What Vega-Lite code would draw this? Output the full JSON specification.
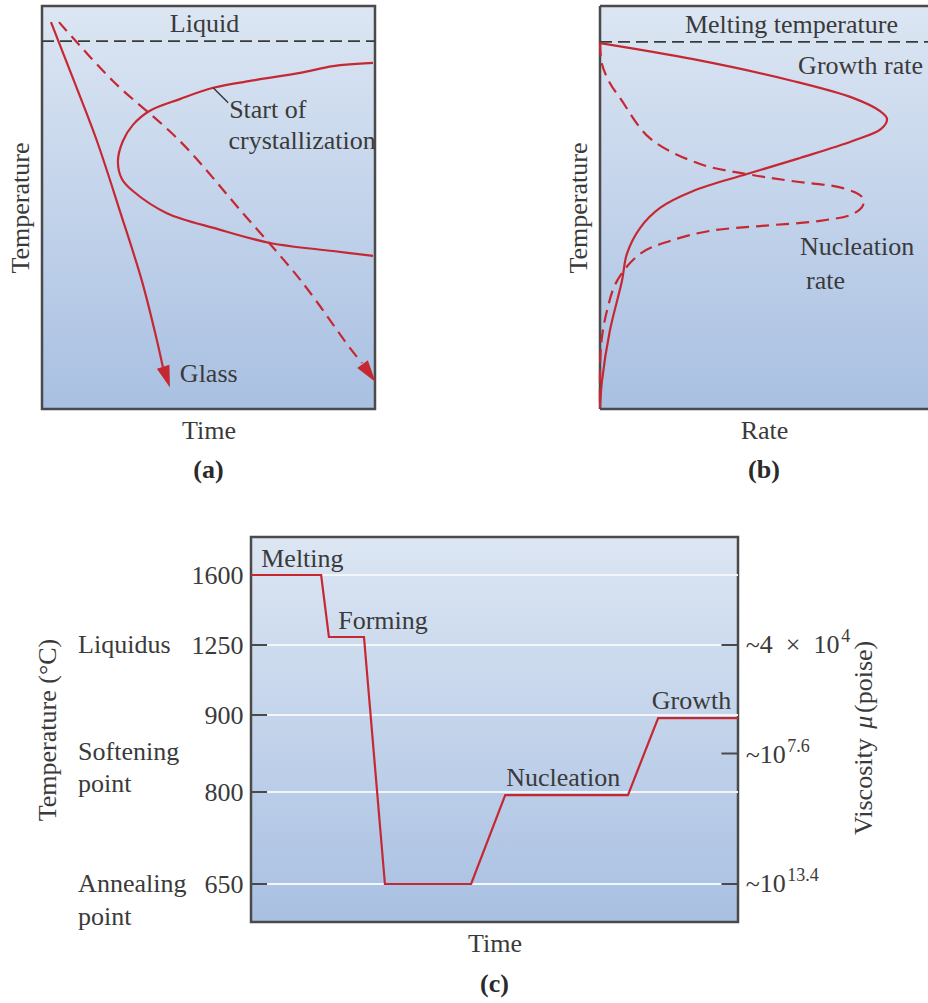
{
  "$schema": "https://vega.github.io/schema/vega-lite/v6.json",
  "background": "white",
  "padding": {"left": 5, "top": 1, "right": 0, "bottom": 0},
  "config": {
    "font": "Liberation Serif",
    "text": {"font": "Liberation Serif", "fontSize": 26, "color": "#3a3a3a"},
    "axis": {
      "titleFont": "Liberation Serif", "titleFontSize": 26, "titleFontWeight": "normal", "titleColor": "#3a3a3a",
      "labelFont": "Liberation Serif", "labelFontSize": 26, "labelColor": "#3a3a3a",
      "domain": false, "ticks": false, "tickSize": 0, "grid": false
    },
    "title": {"font": "Liberation Serif", "fontSize": 26, "fontWeight": "bold", "color": "#2a2a2a"}
  },
  "spacing": 50,
  "vconcat": [
    {
      "spacing": 185,
      "hconcat": [
        {
          "width": 333,
          "height": 403,
          "view": {"fill": {"gradient": "linear", "x1": 0, "y1": 0, "x2": 0, "y2": 1, "stops": [{"offset": 0, "color": "#dce6f3"}, {"offset": 1, "color": "#a9c0e2"}]}, "stroke": "#4a4a4a", "strokeWidth": 2.5},
          "title": {"text": "(a)", "orient": "bottom", "offset": 14, "anchor": "middle"},
          "encoding": {
            "x": {"field": "t", "type": "quantitative", "scale": {"domain": [0, 100], "nice": false}, "axis": {"title": "Time", "labels": false, "titlePadding": 8}},
            "y": {"field": "temp", "type": "quantitative", "scale": {"domain": [0, 100], "nice": false}, "axis": {"title": "Temperature", "labels": false, "titlePadding": 9}}
          },
          "layer": [
            {
              "data": {"values": [{"t": 0, "temp": 91.3, "i": 0}, {"t": 100, "temp": 91.3, "i": 1}]},
              "mark": {"type": "line", "color": "#3a3a3a", "strokeWidth": 1.8, "strokeDash": [12, 6]},
              "encoding": {"order": {"field": "i"}}
            },
            {
              "data": {"values": [
                {"i": 0, "t": 99.4, "temp": 85.9}, {"i": 1, "t": 87.4, "temp": 85.1}, {"i": 2, "t": 77.5, "temp": 83.4},
                {"i": 3, "t": 64.0, "temp": 81.6}, {"i": 4, "t": 51.4, "temp": 79.7}, {"i": 5, "t": 41.4, "temp": 76.9},
                {"i": 6, "t": 32.4, "temp": 74.0}, {"i": 7, "t": 27.3, "temp": 70.5}, {"i": 8, "t": 24.3, "temp": 66.5},
                {"i": 9, "t": 22.8, "temp": 61.5}, {"i": 10, "t": 24.0, "temp": 57.1}, {"i": 11, "t": 27.3, "temp": 54.1},
                {"i": 12, "t": 37.5, "temp": 48.6}, {"i": 13, "t": 52.6, "temp": 44.7}, {"i": 14, "t": 68.5, "temp": 41.2},
                {"i": 15, "t": 87.4, "temp": 39.2}, {"i": 16, "t": 99.4, "temp": 38.0}
              ]},
              "mark": {"type": "line", "color": "#c62832", "strokeWidth": 2.2, "interpolate": "catmull-rom"},
              "encoding": {"order": {"field": "i"}}
            },
            {
              "data": {"values": [
                {"i": 0, "t": 2.7, "temp": 96.0}, {"i": 1, "t": 9.6, "temp": 81.4}, {"i": 2, "t": 16.5, "temp": 66.5},
                {"i": 3, "t": 23.4, "temp": 49.1}, {"i": 4, "t": 30.0, "temp": 31.8}, {"i": 5, "t": 34.2, "temp": 18.1},
                {"i": 6, "t": 36.3, "temp": 10.4}
              ]},
              "mark": {"type": "line", "color": "#c62832", "strokeWidth": 2.2, "interpolate": "catmull-rom"},
              "encoding": {"order": {"field": "i"}}
            },
            {
              "data": {"values": [
                {"i": 0, "t": 5.1, "temp": 96.0}, {"i": 1, "t": 21.3, "temp": 81.4}, {"i": 2, "t": 41.4, "temp": 66.5},
                {"i": 3, "t": 59.8, "temp": 49.1}, {"i": 4, "t": 77.8, "temp": 31.8}, {"i": 5, "t": 92.5, "temp": 15.1},
                {"i": 6, "t": 96.1, "temp": 11.4}
              ]},
              "mark": {"type": "line", "color": "#c62832", "strokeWidth": 2.2, "strokeDash": [12, 7], "interpolate": "catmull-rom"},
              "encoding": {"order": {"field": "i"}}
            },
            {
              "data": {"values": [{"i": 0, "t": 51.4, "temp": 79.7}, {"i": 1, "t": 55.9, "temp": 76.0}]},
              "mark": {"type": "line", "color": "#3a3a3a", "strokeWidth": 1.5},
              "encoding": {"order": {"field": "i"}}
            },
            {
              "data": {"values": [{"t": 37.4, "temp": 7.9, "ang": -18}, {"t": 98.2, "temp": 8.9, "ang": -36}]},
              "mark": {"type": "point", "shape": "M-0.6,-1L0.6,-1L0,1Z", "size": 484, "filled": true, "color": "#c62832", "opacity": 1},
              "encoding": {"angle": {"field": "ang", "type": "quantitative", "scale": null}}
            },
            {
              "data": {"values": [
                {"t": 38.4, "temp": 95.5, "label": "Liquid"},
                {"t": 56.2, "temp": 74.2, "label": "Start of"},
                {"t": 56.0, "temp": 66.5, "label": "crystallization"},
                {"t": 41.4, "temp": 8.6, "label": "Glass"}
              ]},
              "mark": {"type": "text", "align": "left", "baseline": "middle"},
              "encoding": {"text": {"field": "label"}}
            }
          ]
        },
        {
          "width": 328,
          "height": 403,
          "view": {"fill": {"gradient": "linear", "x1": 0, "y1": 0, "x2": 0, "y2": 1, "stops": [{"offset": 0, "color": "#dce6f3"}, {"offset": 1, "color": "#a9c0e2"}]}, "stroke": null},
          "title": {"text": "(b)", "orient": "bottom", "offset": 14, "anchor": "middle"},
          "encoding": {
            "x": {"field": "t", "type": "quantitative", "scale": {"domain": [0, 100], "nice": false}, "axis": {"title": "Rate", "labels": false, "titlePadding": 8}},
            "y": {"field": "temp", "type": "quantitative", "scale": {"domain": [0, 100], "nice": false}, "axis": {"title": "Temperature", "labels": false, "titlePadding": 9}}
          },
          "layer": [
            {
              "data": {"values": [
                {"side": "top", "i": 0, "t": 0, "temp": 100}, {"side": "top", "i": 1, "t": 100, "temp": 100},
                {"side": "bottom", "i": 0, "t": 0, "temp": 0}, {"side": "bottom", "i": 1, "t": 100, "temp": 0},
                {"side": "left", "i": 0, "t": 0, "temp": 0}, {"side": "left", "i": 1, "t": 0, "temp": 100}
              ]},
              "mark": {"type": "line", "color": "#4a4a4a", "strokeWidth": 2.5},
              "encoding": {"detail": {"field": "side"}, "order": {"field": "i"}}
            },
            {
              "data": {"values": [{"t": 0, "temp": 91.1, "i": 0}, {"t": 100, "temp": 91.1, "i": 1}]},
              "mark": {"type": "line", "color": "#3a3a3a", "strokeWidth": 1.8, "strokeDash": [12, 6]},
              "encoding": {"order": {"field": "i"}}
            },
            {
              "data": {"values": [
                {"i": 0, "t": 0, "temp": 90.8}, {"i": 1, "t": 28.4, "temp": 86.8}, {"i": 2, "t": 58.8, "temp": 81.4},
                {"i": 3, "t": 77.1, "temp": 77.2}, {"i": 4, "t": 85.4, "temp": 73.9}, {"i": 5, "t": 87.5, "temp": 72.0},
                {"i": 6, "t": 85.7, "temp": 69.5}, {"i": 7, "t": 77.0, "temp": 66.5}, {"i": 8, "t": 61.0, "temp": 62.3},
                {"i": 9, "t": 44.8, "temp": 58.3}, {"i": 10, "t": 28.4, "temp": 54.1}, {"i": 11, "t": 18.3, "temp": 49.9},
                {"i": 12, "t": 12.2, "temp": 44.9}, {"i": 13, "t": 8.2, "temp": 38.5}, {"i": 14, "t": 6.7, "temp": 31.8},
                {"i": 15, "t": 3.0, "temp": 19.4}, {"i": 16, "t": 0.6, "temp": 6.9}, {"i": 17, "t": 0, "temp": 0.2}
              ]},
              "mark": {"type": "line", "color": "#c62832", "strokeWidth": 2.2, "interpolate": "catmull-rom"},
              "encoding": {"order": {"field": "i"}}
            },
            {
              "data": {"values": [
                {"i": 0, "t": 0, "temp": 90.8}, {"i": 1, "t": 0.6, "temp": 85.6}, {"i": 2, "t": 3.0, "temp": 80.9},
                {"i": 3, "t": 6.1, "temp": 77.2}, {"i": 4, "t": 15.2, "temp": 67.2}, {"i": 5, "t": 30.5, "temp": 60.8},
                {"i": 6, "t": 44.8, "temp": 58.3}, {"i": 7, "t": 58.2, "temp": 56.6}, {"i": 8, "t": 74.1, "temp": 54.8},
                {"i": 9, "t": 79.9, "temp": 52.6}, {"i": 10, "t": 80.2, "temp": 50.6}, {"i": 11, "t": 77.1, "temp": 48.4},
                {"i": 12, "t": 67.1, "temp": 46.7}, {"i": 13, "t": 48.8, "temp": 45.4}, {"i": 14, "t": 33.5, "temp": 44.2},
                {"i": 15, "t": 21.3, "temp": 41.7}, {"i": 16, "t": 12.2, "temp": 38.5}, {"i": 17, "t": 5.2, "temp": 31.8},
                {"i": 18, "t": 2.1, "temp": 24.3}, {"i": 19, "t": 0.3, "temp": 15.6}, {"i": 20, "t": 0, "temp": 0.2}
              ]},
              "mark": {"type": "line", "color": "#c62832", "strokeWidth": 2.2, "strokeDash": [13, 7], "interpolate": "catmull-rom"},
              "encoding": {"order": {"field": "i"}}
            },
            {
              "data": {"values": [
                {"t": 25.9, "temp": 95.4, "label": "Melting temperature"},
                {"t": 60.4, "temp": 85.1, "label": "Growth rate"},
                {"t": 61.0, "temp": 40.1, "label": "Nucleation"},
                {"t": 62.8, "temp": 31.8, "label": "rate"}
              ]},
              "mark": {"type": "text", "align": "left", "baseline": "middle"},
              "encoding": {"text": {"field": "label"}}
            }
          ]
        }
      ]
    },
    {
      "spacing": -11,
      "hconcat": [
        {
          "width": 1,
          "height": 1,
          "view": {"stroke": null, "fill": null},
          "data": {"values": []},
          "mark": {"type": "point", "opacity": 0},
          "encoding": {}
        },
        {
          "width": 487,
          "height": 385,
          "view": {"fill": {"gradient": "linear", "x1": 0, "y1": 0, "x2": 0, "y2": 1, "stops": [{"offset": 0, "color": "#dce6f3"}, {"offset": 1, "color": "#a9c0e2"}]}, "stroke": "#4a4a4a", "strokeWidth": 2.5},
          "title": {"text": "(c)", "orient": "bottom", "offset": 15, "anchor": "middle"},
          "encoding": {
            "x": {"field": "t", "type": "quantitative", "scale": {"domain": [0, 100], "nice": false}, "axis": {"title": "Time", "labels": false, "titlePadding": 8}},
            "y": {
              "field": "temp", "type": "quantitative",
              "scale": {"domain": [588, 650, 800, 900, 1250, 1600, 1790], "range": [385, 347, 255, 178, 108, 38, 0], "nice": false, "zero": false},
              "axis": {"title": "Temperature (°C)", "values": [650, 800, 900, 1250, 1600], "format": "d", "labelPadding": 8, "titlePadding": 131}
            }
          },
          "layer": [
            {
              "data": {"values": [
                {"g": "1600", "i": 0, "t": 0, "temp": 1600}, {"g": "1600", "i": 1, "t": 100, "temp": 1600},
                {"g": "1250", "i": 0, "t": 0, "temp": 1250}, {"g": "1250", "i": 1, "t": 100, "temp": 1250},
                {"g": "900", "i": 0, "t": 0, "temp": 900}, {"g": "900", "i": 1, "t": 100, "temp": 900},
                {"g": "800", "i": 0, "t": 0, "temp": 800}, {"g": "800", "i": 1, "t": 100, "temp": 800},
                {"g": "650", "i": 0, "t": 0, "temp": 650}, {"g": "650", "i": 1, "t": 100, "temp": 650}
              ]},
              "mark": {"type": "line", "color": "#f2f5fa", "strokeWidth": 2},
              "encoding": {"detail": {"field": "g"}, "order": {"field": "i"}}
            },
            {
              "data": {"values": [
                {"g": "L1600", "i": 0, "t": 0, "temp": 1600}, {"g": "L1600", "i": 1, "t": 3.3, "temp": 1600},
                {"g": "L1250", "i": 0, "t": 0, "temp": 1250}, {"g": "L1250", "i": 1, "t": 3.3, "temp": 1250},
                {"g": "L900", "i": 0, "t": 0, "temp": 900}, {"g": "L900", "i": 1, "t": 3.3, "temp": 900},
                {"g": "L800", "i": 0, "t": 0, "temp": 800}, {"g": "L800", "i": 1, "t": 3.3, "temp": 800},
                {"g": "L650", "i": 0, "t": 0, "temp": 650}, {"g": "L650", "i": 1, "t": 3.3, "temp": 650},
                {"g": "R1250", "i": 0, "t": 96.6, "temp": 1250}, {"g": "R1250", "i": 1, "t": 100, "temp": 1250},
                {"g": "R850", "i": 0, "t": 96.6, "temp": 850}, {"g": "R850", "i": 1, "t": 100, "temp": 850},
                {"g": "R650", "i": 0, "t": 96.6, "temp": 650}, {"g": "R650", "i": 1, "t": 100, "temp": 650}
              ]},
              "mark": {"type": "line", "color": "#4a4a4a", "strokeWidth": 2},
              "encoding": {"detail": {"field": "g"}, "order": {"field": "i"}}
            },
            {
              "data": {"values": [
                {"i": 0, "t": 0, "temp": 1600}, {"i": 1, "t": 14.4, "temp": 1600},
                {"i": 2, "t": 16.0, "temp": 1290}, {"i": 3, "t": 23.2, "temp": 1290},
                {"i": 4, "t": 27.5, "temp": 650}, {"i": 5, "t": 45.2, "temp": 650},
                {"i": 6, "t": 52.2, "temp": 795}, {"i": 7, "t": 77.4, "temp": 795},
                {"i": 8, "t": 83.6, "temp": 896}, {"i": 9, "t": 100, "temp": 896}
              ]},
              "mark": {"type": "line", "color": "#c62832", "strokeWidth": 2.2},
              "encoding": {"order": {"field": "i"}}
            },
            {
              "data": {"values": [
                {"t": 2.1, "temp": 1680, "label": "Melting"},
                {"t": 17.9, "temp": 1370, "label": "Forming"},
                {"t": 52.4, "temp": 818, "label": "Nucleation"},
                {"t": 82.3, "temp": 970, "label": "Growth"},
                {"t": -35.5, "temp": 1250, "label": "Liquidus"},
                {"t": -35.5, "temp": 852, "label": "Softening"},
                {"t": -35.5, "temp": 810, "label": "point"},
                {"t": -35.5, "temp": 650, "label": "Annealing"},
                {"t": -35.5, "temp": 596, "label": "point"},
                {"t": 101.6, "temp": 1250, "label": "~4\u2002×\u200210"},
                {"t": 101.6, "temp": 848, "label": "~10"},
                {"t": 101.6, "temp": 650, "label": "~10"}
              ]},
              "mark": {"type": "text", "align": "left", "baseline": "middle"},
              "encoding": {"text": {"field": "label"}}
            },
            {
              "data": {"values": [
                {"t": 121.2, "temp": 1250, "label": "4"},
                {"t": 110.1, "temp": 848, "label": "7.6"},
                {"t": 110.1, "temp": 650, "label": "13.4"}
              ]},
              "mark": {"type": "text", "align": "left", "baseline": "middle", "fontSize": 18, "dy": -8},
              "encoding": {"text": {"field": "label"}}
            },
            {
              "data": {"values": [
                {"t": 125.9, "temp": 730, "label": "Viscosity"},
                {"t": 125.9, "temp": 910, "label": "(poise)"}
              ]},
              "mark": {"type": "text", "align": "left", "baseline": "middle", "angle": 270},
              "encoding": {"text": {"field": "label"}}
            },
            {
              "data": {"values": [{"t": 125.9, "temp": 882, "label": "μ"}]},
              "mark": {"type": "text", "align": "left", "baseline": "middle", "angle": 270, "fontStyle": "italic"},
              "encoding": {"text": {"field": "label"}}
            }
          ]
        }
      ]
    }
  ]
}
